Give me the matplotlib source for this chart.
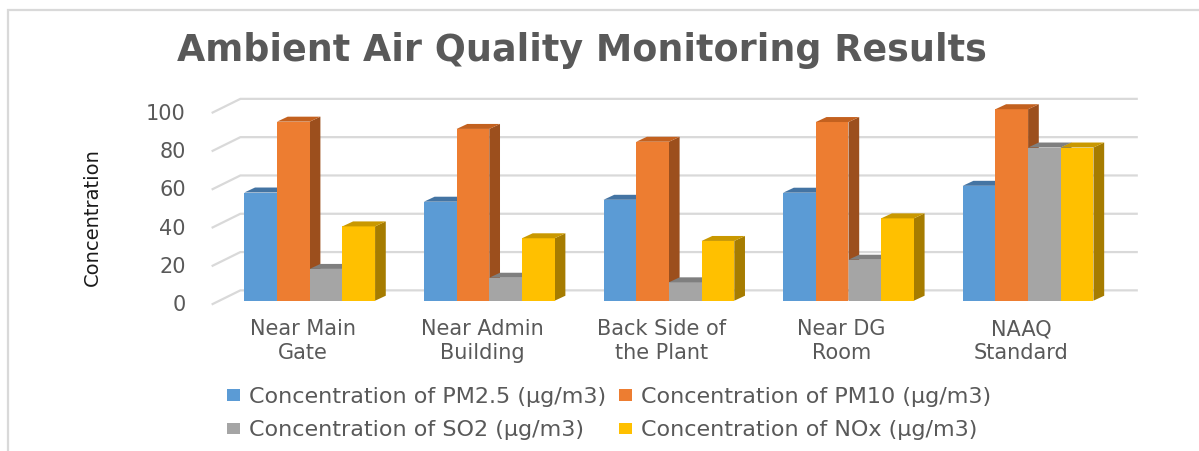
import matplotlib
matplotlib.use("Agg")
import matplotlib.pyplot as plt
from matplotlib.patches import Polygon, Rectangle

# --- data ---
sites = ["Near Main\nGate", "Near Admin\nBuilding", "Back Side of\nthe Plant",
         "Near DG\nRoom", "NAAQ\nStandard"]
pm25 = [56.5, 51.7, 52.7, 56.4, 60]
pm10 = [93.5, 89.7, 83.0, 93.3, 100]
so2 = [16.6, 12.0, 9.6, 21.4, 80]
nox = [38.8, 32.6, 31.2, 43.0, 80]
series_names = ["Concentration of PM2.5 (\u00b5g/m3)",
                "Concentration of PM10 (\u00b5g/m3)",
                "Concentration of SO2 (\u00b5g/m3)",
                "Concentration of NOx (\u00b5g/m3)"]
y_ticks = [0, 20, 40, 60, 80, 100]

# --- styles ---
front_cols = ["#5B9BD5", "#ED7D31", "#A5A5A5", "#FFC000"]
top_cols = ["#4474A3", "#C3611F", "#7F7F7F", "#C99800"]
side_cols = ["#3E6C98", "#9C4F1D", "#7A7A7A", "#A67C00"]
grid_col = "#D9D9D9"
text_col = "#595959"

W, H = 1199, 451
fig = plt.figure(figsize=(W / 100, H / 100), dpi=100)
fig.patch.set_facecolor("white")

# outer chart border (runs off the right/bottom edges)
fig.patches.append(Rectangle((8 / W, -0.1), 1.2, 1.1 - 10 / H,
                             transform=fig.transFigure, fill=False,
                             edgecolor=grid_col, linewidth=1.6))

# axes placed in pixel terms
ax_l, ax_r, ax_b, ax_t = 200, 1150, 310, 95
ax = fig.add_axes([ax_l / W, 1 - ax_b / H, (ax_r - ax_l) / W, (ax_b - ax_t) / H])
px_per_x = 179.6
px_per_v = 1.915
x0_px, v0_px = 309.7, 300.7
ax.set_xlim((ax_l - x0_px) / px_per_x, (ax_r - x0_px) / px_per_x)
ax.set_ylim((v0_px - ax_b) / px_per_v, (v0_px - ax_t) / px_per_v)
ax.axis("off")

# 3D-ish wall gridlines
back_off = 5.4
front_off = -2.0
x_front, x_back, x_end = -0.546, -0.386, 4.611
for v in y_ticks:
    ax.plot([x_front, x_back, x_end], [v + front_off, v + back_off, v + back_off],
            color=grid_col, lw=1.6, zorder=1, solid_capstyle="butt")
    ax.text(-0.69, v - 2.3, str(v), ha="right", va="center", fontsize=15,
            color=text_col, clip_on=False)

# bars with depth faces
bw = 0.182
dx, dy = 0.0596, 2.6
series = [pm25, pm10, so2, nox]
for k, vals in enumerate(series):
    xs = [i + (k - 1.5) * bw for i in range(len(sites))]
    ax.bar(xs, vals, width=bw, color=front_cols[k], zorder=3 + 2 * k,
           label=series_names[k], linewidth=0)
    for x, v in zip(xs, vals):
        xl, xr = x - bw / 2, x + bw / 2
        ax.add_patch(Polygon([(xr, 0), (xr + dx, dy), (xr + dx, v + dy), (xr, v)],
                             closed=True, facecolor=side_cols[k], lw=0,
                             zorder=2 + 2 * k))
        ax.add_patch(Polygon([(xl, v), (xl + dx, v + dy), (xr + dx, v + dy), (xr, v)],
                             closed=True, facecolor=top_cols[k], lw=0,
                             zorder=2 + 2 * k + 1.5))

# category labels
for i, s in enumerate(sites):
    ax.text(i - 0.04, -9.8, s, ha="center", va="top", fontsize=15,
            color=text_col, linespacing=1.2, clip_on=False)

# title and axis label
fig.text(582 / W, 1 - 61 / H, "Ambient Air Quality Monitoring Results",
         ha="center", va="baseline", fontsize=26.3, fontweight="bold", color=text_col)
fig.text(92.5 / W, 1 - 216.7 / H, "Concentration", rotation=90,
         ha="center", va="center", fontsize=14, color="#1a1a1a")

# legend, filled column-wise to get PM2.5/PM10 on row 1
handles, labels = ax.get_legend_handles_labels()
order = [0, 2, 1, 3]
fig.legend([handles[i] for i in order], [labels[i] for i in order],
           ncol=2, frameon=False, loc="center left",
           bbox_to_anchor=(227 / W, 1 - 413.5 / H), fontsize=16,
           labelcolor=text_col, handlelength=0.6, handleheight=0.45,
           handletextpad=0.4, columnspacing=0.55, labelspacing=0.62,
           borderpad=0, borderaxespad=0)

fig.savefig("out.png", dpi=100, facecolor="white")
